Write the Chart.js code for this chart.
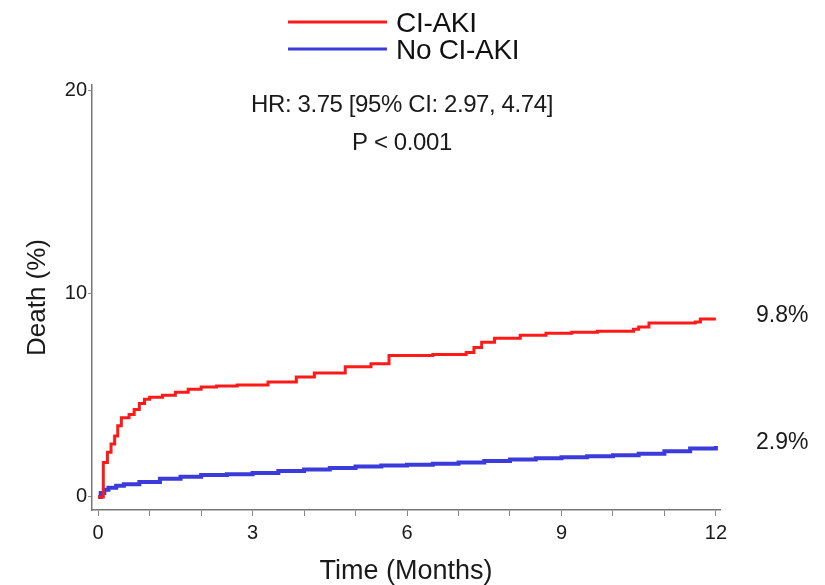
<!DOCTYPE html>
<html>
<head>
<meta charset="utf-8">
<script src="https://cdn.jsdelivr.net/npm/chart.js@4"></script>
<style>
  body { margin: 0; background: #fff; }
  #wrap { width: 825px; height: 585px; }
</style>
</head>
<body>
<div id="wrap"><canvas id="canvasKM"></canvas></div>
<script>
// series (time in months, cumulative death %)
const seriesNames = ['CI-AKI', 'No CI-AKI'];
const seriesColors = ['#ff1a1a', '#3b3bdc'];

const aki = [
  [0, 0], [0.1, 1.7], [0.18, 2.2], [0.25, 2.6], [0.32, 3.0], [0.38, 3.5], [0.45, 3.9],
  [0.6, 4.05], [0.7, 4.3], [0.8, 4.6], [0.9, 4.8], [1.0, 4.9], [1.25, 5.0], [1.5, 5.15],
  [1.75, 5.3], [2.0, 5.4], [2.3, 5.45], [2.7, 5.5], [3.3, 5.65], [3.85, 5.9], [4.2, 6.1],
  [4.8, 6.4], [5.3, 6.55], [5.65, 6.95], [6.5, 7.0], [7.15, 7.1], [7.3, 7.35], [7.45, 7.6],
  [7.7, 7.8], [8.2, 7.95], [8.7, 8.05], [9.2, 8.1], [9.7, 8.15], [10.4, 8.25], [10.5, 8.35],
  [10.7, 8.55], [11.6, 8.6], [11.7, 8.75], [12, 8.75]
];

const noAki = [
  [0, 0], [0.05, 0.2], [0.12, 0.35], [0.2, 0.45], [0.35, 0.55], [0.5, 0.62], [0.8, 0.74],
  [1.2, 0.9], [1.6, 1.0], [2.0, 1.08], [2.5, 1.12], [3.0, 1.18], [3.5, 1.28], [4.0, 1.35],
  [4.5, 1.42], [5.0, 1.5], [5.5, 1.55], [6.0, 1.58], [6.5, 1.63], [7.0, 1.7], [7.5, 1.77],
  [8.0, 1.84], [8.5, 1.9], [9.0, 1.95], [9.5, 2.0], [10.0, 2.05], [10.5, 2.13], [11.0, 2.25],
  [11.5, 2.38], [12, 2.5]
];

const monthTicks = [0, 1, 2, 3, 4, 5, 6, 7, 8, 9, 10, 11, 12];
const deathTicks = [0, 10, 20];
const endLabels = ['9.8%', '2.9%'];
const endLabelY = [8.9, 2.65]; // where the labels sit on the y scale
const statLines = ['HR: 3.75 [95% CI: 2.97, 4.74]', 'P < 0.001'];

const FONT = '"Liberation Sans", Arial, sans-serif';

// legend, stats text and the percent labels at the right
const extrasPlugin = {
  id: 'extras',
  afterDraw(chart) {
    const ctx = chart.ctx;
    const ys = chart.scales.y;
    ctx.save();

    // legend stacked in two rows
    ctx.font = '28px ' + FONT;
    ctx.textBaseline = 'middle';
    ctx.textAlign = 'left';
    ctx.letterSpacing = '-0.3px';
    seriesNames.forEach(function(name, i) {
      const y = 22 + i * 27;
      ctx.strokeStyle = seriesColors[i];
      ctx.lineWidth = 3;
      ctx.beginPath();
      ctx.moveTo(288, y);
      ctx.lineTo(387, y);
      ctx.stroke();
      ctx.fillStyle = '#111';
      ctx.fillText(name, 396, y + 2);
    });

    // HR / p value
    ctx.font = '24px ' + FONT;
    ctx.letterSpacing = '-0.4px';
    ctx.textAlign = 'center';
    ctx.fillStyle = '#1a1a1a';
    ctx.fillText(statLines[0], 402, 105);
    ctx.fillText(statLines[1], 402, 143);

    // final percentages
    ctx.font = '23px ' + FONT;
    ctx.letterSpacing = '0px';
    ctx.textAlign = 'left';
    endLabels.forEach(function(lbl, i) {
      ctx.fillText(lbl, 756, ys.getPixelForValue(endLabelY[i]));
    });
    ctx.restore();
  }
};

const ctx1 = document.getElementById('canvasKM').getContext('2d');
const kmChart = new Chart(ctx1, {
  type: 'line',
  data: {
    datasets: [
      {
        label: seriesNames[0],
        data: aki.map(p => ({ x: p[0], y: p[1] })),
        borderColor: seriesColors[0],
        borderWidth: 3,
        pointRadius: 0,
        stepped: true,
        fill: false
      },
      {
        label: seriesNames[1],
        data: noAki.map(p => ({ x: p[0], y: p[1] })),
        borderColor: seriesColors[1],
        borderWidth: 4,
        pointRadius: 0,
        stepped: true,
        fill: false
      }
    ]
  },
  options: {
    responsive: true,
    maintainAspectRatio: false,
    animation: { duration: 0 },
    layout: { padding: { top: 85, right: 105, left: 0, bottom: 0 } },
    plugins: {
      legend: { display: false },
      tooltip: { enabled: false }
    },
    scales: {
      x: {
        type: 'linear',
        min: -0.12,
        max: 12.08,
        afterBuildTicks: function(axis) {
          axis.ticks = monthTicks.map(v => ({ value: v }));
        },
        afterFit: function(axis) { axis.height = 75; },
        grid: { drawOnChartArea: false, tickLength: 6, color: '#888' },
        border: { color: '#777', width: 1.5 },
        ticks: {
          autoSkip: false,
          maxRotation: 0,
          color: '#1a1a1a',
          font: { size: 20, family: FONT },
          padding: 5,
          callback: function(value) {
            return value % 3 === 0 ? value : '';
          }
        },
        title: {
          display: true,
          text: 'Time (Months)',
          color: '#1a1a1a',
          font: { size: 27, family: FONT, lineHeight: 1.0 },
          padding: { top: 4, bottom: 0 }
        }
      },
      y: {
        type: 'linear',
        min: -0.64,
        max: 20.25,
        afterBuildTicks: function(axis) {
          axis.ticks = deathTicks.map(v => ({ value: v }));
        },
        afterFit: function(axis) { axis.width = 92; },
        grid: { drawOnChartArea: false, tickLength: 4, color: '#888' },
        border: { color: '#777', width: 1.5 },
        ticks: {
          color: '#1a1a1a',
          font: { size: 20, family: FONT },
          padding: 1
        },
        title: {
          display: true,
          text: 'Death (%)',
          color: '#1a1a1a',
          font: { size: 26, family: FONT },
          padding: { top: 22, bottom: 0 }
        }
      }
    }
  },
  plugins: [extrasPlugin]
});
</script>
</body>
</html>
